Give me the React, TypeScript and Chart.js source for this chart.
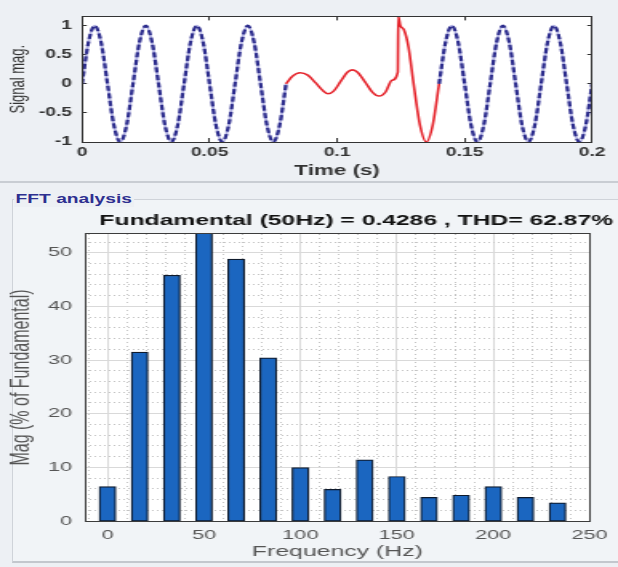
import { useEffect, useRef } from "react";
import { Chart, registerables } from "chart.js";

Chart.register(...registerables);

// ---------- time-domain signal ----------
const SAMPLE_TIMES_S = [
  0, 0.0025, 0.005, 0.0075, 0.01, 0.0125, 0.015, 0.0175, 0.02, 0.0225, 0.025, 0.0275,
  0.03, 0.0325, 0.035, 0.0375, 0.04, 0.0425, 0.045, 0.0475, 0.05, 0.0525, 0.055, 0.0575,
  0.06, 0.0625, 0.065, 0.0675, 0.07, 0.0725, 0.075, 0.0775, 0.08, 0.0825, 0.085, 0.0875,
  0.09, 0.0925, 0.095, 0.0975, 0.1, 0.1025, 0.105, 0.1075, 0.11, 0.1125, 0.115, 0.1175,
  0.12, 0.1225, 0.125, 0.1275, 0.13, 0.1325, 0.135, 0.1375, 0.14, 0.1425, 0.145, 0.1475,
  0.15, 0.1525, 0.155, 0.1575, 0.16, 0.1625, 0.165, 0.1675, 0.17, 0.1725, 0.175, 0.1775,
  0.18, 0.1825, 0.185, 0.1875, 0.19, 0.1925, 0.195, 0.1975, 0.2,
];

const BLUE_SIGNAL: (number | null)[] = [
  0, 0.71, 1, 0.71, 0, -0.71, -1, -0.71,
  0, 0.71, 1, 0.71, 0, -0.71, -1, -0.71,
  0, 0.71, 1, 0.71, 0, -0.71, -1, -0.71,
  0, 0.71, 1, 0.71, 0, -0.71, -1, -0.71,
  0,
  null, null, null, null, null, null, null, null, null, null, null, null,
  null, null, null, null, null, null, null, null, null, null, null,
  0, 0.71, 1, 0.71, 0, -0.71, -1, -0.71,
  0, 0.71, 1, 0.71, 0, -0.71, -1, -0.71,
  0, 0.71, 1, 0.71, 0, -0.71, -1, -0.71,
  0,
];

const RED_TIMES_S = [
  0.08, 0.0825, 0.0855, 0.0885, 0.0915, 0.0945, 0.0965, 0.0985, 0.1015, 0.104, 0.106,
  0.108, 0.111, 0.114, 0.1165, 0.119, 0.1215, 0.1238, 0.124, 0.1248, 0.1262, 0.128,
  0.13, 0.1325, 0.135, 0.1375, 0.14,
];
const RED_SIGNAL = [
  0, 0.13, 0.19, 0.15, 0.02, -0.12, -0.17, -0.13, 0.05, 0.2, 0.24,
  0.2, 0.03, -0.15, -0.21, -0.14, 0.06, 0.2, 1.16, 1.0, 0.93, 0.63,
  0, -0.71, -1, -0.71, 0,
];

const TIME_TICKS = [0, 0.05, 0.1, 0.15, 0.2];
const TIME_TICK_LABELS = ["0", "0.05", "0.1", "0.15", "0.2"];
const SIGNAL_TICKS = [-1, -0.5, 0, 0.5, 1];
const SIGNAL_TICK_LABELS = ["-1", "-0.5", "0", "0.5", "1"];

// ---------- FFT spectrum ----------
const FREQUENCIES_HZ = [
  0, 16.67, 33.33, 50, 66.67, 83.33, 100, 116.67, 133.33, 150, 166.67, 183.33, 200, 216.67, 233.33,
];
const MAGNITUDES_PCT = [6.4, 31.5, 45.8, 100, 48.8, 30.4, 9.95, 5.9, 11.4, 8.3, 4.4, 4.8, 6.4, 4.4, 3.4];

const FREQ_TICKS = [0, 50, 100, 150, 200, 250];
const FREQ_TICK_LABELS = ["0", "50", "100", "150", "200", "250"];
const MAG_TICKS = [0, 10, 20, 30, 40, 50];
const MAG_TICK_LABELS = ["0", "10", "20", "30", "40", "50"];

const FFT_TITLE = "Fundamental (50Hz) = 0.4286 , THD= 62.87%";

// ---------- geometry ----------
const FAMILY = "'Liberation Sans', Arial, Helvetica, sans-serif";
const PAGE_W = 618;
const LOGICAL_W = 386;
const S = PAGE_W / LOGICAL_W; // horizontal stretch of the original picture
const TOP_H = 180;
const BOT_TOP = 205;
const BOT_H = 567 - BOT_TOP;

const plotBackground = {
  id: "plotBackground",
  beforeDraw(chart: any) {
    const { ctx, chartArea } = chart;
    ctx.save();
    ctx.fillStyle = "#ffffff";
    ctx.fillRect(chartArea.left, chartArea.top, chartArea.right - chartArea.left, chartArea.bottom - chartArea.top);
    ctx.restore();
  },
};

const setTicks = (values: number[]) => (scale: any) => {
  scale.ticks = values.map((v) => ({ value: v }));
};
const fixW = (w: number) => (scale: any) => {
  scale.width = w;
};
const fixH = (h: number) => (scale: any) => {
  scale.height = h;
};

export default function App() {
  const topRef = useRef<HTMLCanvasElement | null>(null);
  const botRef = useRef<HTMLCanvasElement | null>(null);

  useEffect(() => {
    if (!topRef.current || !botRef.current) return;

    const axisDark = "#333333";
    const frame = { display: true, color: axisDark, width: 1, z: 1 };
    const inwardX = { display: true, drawOnChartArea: false, drawTicks: true, tickLength: -4, color: axisDark, lineWidth: 1 };
    const inwardY = { display: true, drawOnChartArea: false, drawTicks: true, tickLength: -3, color: axisDark, lineWidth: 1 };

    const topChart = new Chart(topRef.current, {
      type: "line",
      data: {
        datasets: [
          {
            label: "red",
            data: RED_TIMES_S.map((t, i) => ({ x: t, y: RED_SIGNAL[i] })),
            borderColor: "#e5222a",
            borderWidth: 1.6,
            pointRadius: 0,
            cubicInterpolationMode: "monotone",
          },
          {
            label: "blueDash",
            data: SAMPLE_TIMES_S.map((t, i) => ({ x: t, y: BLUE_SIGNAL[i] })),
            borderColor: "#2c2c8c",
            borderWidth: 2.2,
            borderDash: [5, 2.5],
            pointRadius: 0,
            spanGaps: false,
            cubicInterpolationMode: "monotone",
          },
          {
            label: "blueUnder",
            data: SAMPLE_TIMES_S.map((t, i) => ({ x: t, y: BLUE_SIGNAL[i] })),
            borderColor: "rgba(110,110,200,0.55)",
            borderWidth: 2,
            pointRadius: 0,
            spanGaps: false,
            cubicInterpolationMode: "monotone",
          },
        ],
      } as any,
      options: {
        responsive: false,
        animation: false,
        events: [],
        layout: { padding: { left: 0, right: (PAGE_W - 602) / S, top: 6, bottom: 0 } },
        plugins: { legend: { display: false }, tooltip: { enabled: false }, title: { display: false } },
        scales: {
          x: {
            type: "linear",
            position: "bottom",
            min: 0,
            max: 0.2,
            offset: false,
            afterBuildTicks: setTicks(TIME_TICKS),
            afterFit: fixH(TOP_H - 142),
            grid: inwardX,
            border: frame,
            ticks: {
              autoSkip: false,
              maxRotation: 0,
              padding: 7.8,
              color: axisDark,
              font: { family: FAMILY, size: 12, weight: "bold" },
              callback: (_v: any, i: number) => TIME_TICK_LABELS[i],
            },
            title: {
              display: true,
              text: "Time (s)",
              color: axisDark,
              font: { family: FAMILY, size: 14, weight: "bold" },
              padding: { top: 0, bottom: 0 },
            },
          },
          xTop: {
            type: "linear",
            position: "top",
            min: 0,
            max: 0.2,
            offset: false,
            afterBuildTicks: setTicks(TIME_TICKS),
            afterFit: fixH(0),
            grid: inwardX,
            border: frame,
            ticks: { display: false },
          },
          y: {
            type: "linear",
            position: "left",
            min: -1,
            max: 1.16,
            afterBuildTicks: setTicks(SIGNAL_TICKS),
            afterFit: fixW(82 / S),
            grid: inwardY,
            border: frame,
            ticks: {
              autoSkip: false,
              padding: 9.2,
              color: axisDark,
              font: { family: FAMILY, size: 12, weight: "bold" },
              callback: (_v: any, i: number) => SIGNAL_TICK_LABELS[i],
            },
            title: {
              display: true,
              text: "Signal mag.",
              color: axisDark,
              font: { family: FAMILY, size: 13 },
              padding: { top: 3.8, bottom: 0 },
            },
          },
          yRight: {
            type: "linear",
            position: "right",
            min: -1,
            max: 1.16,
            afterBuildTicks: setTicks(SIGNAL_TICKS),
            afterFit: fixW(0),
            grid: inwardY,
            border: frame,
            ticks: { display: false },
          },
        },
      } as any,
      plugins: [plotBackground],
    });

    const gridMajor = { display: true, drawOnChartArea: true, drawTicks: false, color: "#d9d9d9", lineWidth: 1 };
    const gridMinor = { display: true, drawOnChartArea: true, drawTicks: false, color: "#c4c4c4", lineWidth: 1 };
    const bFrame = { display: true, color: "#3c3c3c", width: 1, z: 1 };
    const tickFont = { family: FAMILY, size: 13.5 };
    const tickColor = "#555555";
    const minorX = [-10, 0, 10, 20, 30, 40, 50, 60, 70, 80, 90, 100, 110, 120, 130, 140, 150, 160, 170, 180, 190, 200, 210, 220, 230, 240];
    const minorY = [2, 4, 6, 8, 12, 14, 16, 18, 22, 24, 26, 28, 32, 34, 36, 38, 42, 44, 46, 48, 52];

    const chartRight = 600 / S;
    const titleRight = 613 / S;

    const botChart = new Chart(botRef.current, {
      type: "bar",
      data: {
        datasets: [
          {
            label: "Mag",
            data: FREQUENCIES_HZ.map((f, i) => ({ x: f, y: MAGNITUDES_PCT[i] })),
            backgroundColor: "#1b66c0",
            borderColor: "#0e1a2c",
            borderWidth: 1.2,
            borderSkipped: false,
            barThickness: 16.7 / S,
          },
        ],
      } as any,
      options: {
        responsive: false,
        animation: false,
        events: [],
        layout: { padding: { left: 0, right: LOGICAL_W - titleRight, top: 0, bottom: 0 } },
        plugins: {
          legend: { display: false },
          tooltip: { enabled: false },
          title: {
            display: true,
            text: FFT_TITLE,
            align: "end",
            fullSize: true,
            color: "#111111",
            font: { family: FAMILY, size: 15.4, weight: "bold" },
            padding: { top: 6.3, bottom: 4.2 },
          },
        },
        scales: {
          xMinor: {
            type: "linear",
            position: "bottom",
            min: -11.67,
            max: 250,
            offset: false,
            afterBuildTicks: setTicks(minorX),
            afterFit: fixH(0),
            grid: { ...gridMinor, offset: false },
            border: { display: false, dash: [1, 3] },
            ticks: { display: false },
          },
          x: {
            type: "linear",
            position: "bottom",
            min: -11.67,
            max: 250,
            offset: false,
            afterBuildTicks: setTicks(FREQ_TICKS),
            afterFit: fixH(BOT_H - (521 - BOT_TOP)),
            grid: { ...gridMajor, offset: false },
            border: bFrame,
            ticks: {
              autoSkip: false,
              maxRotation: 0,
              padding: 6.4,
              color: tickColor,
              font: tickFont,
              callback: (_v: any, i: number) => FREQ_TICK_LABELS[i],
            },
            title: {
              display: true,
              text: "Frequency (Hz)",
              color: tickColor,
              font: { family: FAMILY, size: 15.5 },
              padding: { top: 0, bottom: 6 },
            },
          },
          xTop: {
            type: "linear",
            position: "top",
            min: -11.67,
            max: 250,
            offset: false,
            afterBuildTicks: setTicks(FREQ_TICKS),
            afterFit: fixH(0),
            grid: { display: false },
            border: bFrame,
            ticks: { display: false },
          },
          yMinor: {
            type: "linear",
            position: "left",
            min: 0,
            max: 53.5,
            afterBuildTicks: setTicks(minorY),
            afterFit: fixW(0),
            grid: gridMinor,
            border: { display: false, dash: [1, 2] },
            ticks: { display: false },
          },
          y: {
            type: "linear",
            position: "left",
            min: 0,
            max: 53.5,
            afterBuildTicks: setTicks(MAG_TICKS),
            afterFit: fixW(85 / S),
            grid: gridMajor,
            border: bFrame,
            ticks: {
              autoSkip: false,
              padding: 8.1,
              color: tickColor,
              font: tickFont,
              callback: (_v: any, i: number) => MAG_TICK_LABELS[i],
            },
            title: {
              display: true,
              text: "Mag (% of Fundamental)",
              color: tickColor,
              font: { family: FAMILY, size: 16 },
              padding: { top: 4.1, bottom: 0 },
            },
          },
          yRight: {
            type: "linear",
            position: "right",
            min: 0,
            max: 53.5,
            afterBuildTicks: setTicks(MAG_TICKS),
            afterFit: fixW(titleRight - chartRight),
            grid: { display: false },
            border: bFrame,
            ticks: { display: false },
          },
        },
      } as any,
      plugins: [plotBackground],
    });

    return () => {
      topChart.destroy();
      botChart.destroy();
    };
  }, []);

  return (
    <div
      style={{
        position: "fixed",
        left: 0,
        top: 0,
        width: PAGE_W,
        height: 567,
        background: "#edf0f4",
        overflow: "hidden",
        fontFamily: FAMILY,
      }}
    >
      <canvas
        ref={topRef}
        width={LOGICAL_W}
        height={TOP_H}
        style={{ position: "absolute", left: 0, top: 0, width: PAGE_W + "px", height: TOP_H + "px" }}
      />
      <div style={{ position: "absolute", left: 0, top: 181, width: PAGE_W, height: 2, background: "#c9cdd3" }} />
      <div
        style={{
          position: "absolute",
          left: 12,
          top: 199,
          width: 640,
          height: 361,
          borderLeft: "1px solid #cfd3d9",
          borderTop: "1px solid #cfd3d9",
          borderBottom: "2px solid #c3c7cd",
          background: "#f1f4f7",
        }}
      />
      <div
        style={{
          position: "absolute",
          left: 14,
          top: 192,
          height: 15,
          lineHeight: "15px",
          padding: "0 1px",
          fontSize: 12,
          fontWeight: "bold",
          color: "#2d2f90",
          background: "#edf0f4",
          transform: `scaleX(${S})`,
          transformOrigin: "left center",
          whiteSpace: "nowrap",
        }}
      >
        FFT analysis
      </div>
      <canvas
        ref={botRef}
        width={LOGICAL_W}
        height={BOT_H}
        style={{ position: "absolute", left: 0, top: BOT_TOP, width: PAGE_W + "px", height: BOT_H + "px" }}
      />
    </div>
  );
}
